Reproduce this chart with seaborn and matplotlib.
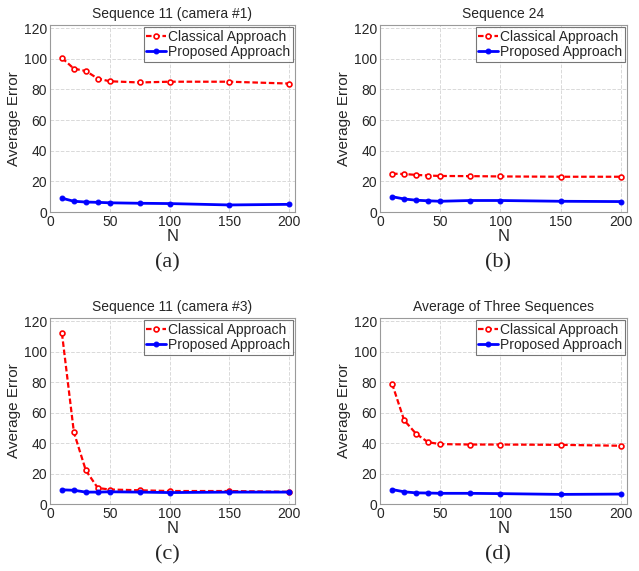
import pandas as pd
import matplotlib
matplotlib.use("Agg")
import matplotlib.pyplot as plt
import seaborn as sns

# -----------------------------
# DATA
# -----------------------------
n_values = [10, 20, 30, 40, 50, 75, 100, 150, 200]

titles = [
    "Sequence 11 (camera #1)",
    "Sequence 24",
    "Sequence 11 (camera #3)",
    "Average of Three Sequences",
]
panel_tags = ["(a)", "(b)", "(c)", "(d)"]

classical_a = [100.5, 93.5, 92.0, 87.0, 85.3, 84.5, 85.0, 85.0, 83.8]
proposed_a = [9.0, 7.0, 6.5, 6.3, 6.0, 5.7, 5.5, 4.6, 5.0]

classical_b = [25.0, 24.8, 24.2, 23.8, 23.5, 23.4, 23.2, 23.0, 23.0]
proposed_b = [10.0, 8.5, 7.7, 7.3, 7.0, 7.5, 7.5, 7.0, 6.8]

classical_c = [112.0, 47.0, 22.0, 10.5, 9.5, 9.0, 8.5, 8.5, 8.0]
proposed_c = [9.3, 9.0, 7.8, 7.8, 8.0, 7.8, 7.5, 7.8, 7.8]

classical_d = [79.0, 55.0, 46.0, 40.5, 39.3, 39.0, 39.0, 38.8, 38.2]
proposed_d = [9.5, 8.0, 7.3, 7.2, 7.0, 7.0, 6.8, 6.3, 6.5]

classical_all = [classical_a, classical_b, classical_c, classical_d]
proposed_all = [proposed_a, proposed_b, proposed_c, proposed_d]

# -----------------------------
# STYLE
# -----------------------------
sns.set_style("white")
plt.rcParams["font.family"] = ["Liberation Sans", "DejaVu Sans"]

W, H = 639, 571
fig = plt.figure(figsize=(W / 100, H / 100), dpi=100)

# axes boxes in pixels: left, top, right, bottom
boxes = [
    (50, 25, 295, 212),
    (380, 25, 627, 212),
    (50, 318, 295, 504),
    (380, 318, 627, 504),
]
tag_pos = [(167, 263), (498, 263), (167, 555), (498, 555)]

for i in range(4):
    l, t, r, b = boxes[i]
    ax = fig.add_axes([l / W, 1 - b / H, (r - l) / W, (b - t) / H])

    df = pd.DataFrame({
        "N": n_values * 2,
        "err": classical_all[i] + proposed_all[i],
        "method": ["Classical Approach"] * 9 + ["Proposed Approach"] * 9,
    })

    sns.lineplot(
        data=df[df["method"] == "Classical Approach"], x="N", y="err",
        ax=ax, color="#ff0000", linestyle=(0, (2.5, 1.2)), linewidth=1.6,
        marker="o", markersize=3.5, markerfacecolor="white",
        markeredgecolor="#ff0000", markeredgewidth=1.2,
        label="Classical Approach",
    )
    sns.lineplot(
        data=df[df["method"] == "Proposed Approach"], x="N", y="err",
        ax=ax, color="#0000ff", linestyle="-", linewidth=2.0,
        marker="o", markersize=3.5, markerfacecolor="#0000ff",
        markeredgecolor="#0000ff", label="Proposed Approach",
    )

    ax.set_xlim(0, 205)
    ax.set_ylim(0, 122)
    ax.set_xticks([0, 50, 100, 150, 200])
    ax.set_yticks([0, 20, 40, 60, 80, 100, 120])
    ax.grid(True, linestyle="--", color="#d9d9d9", linewidth=0.7)
    ax.tick_params(direction="in", labelsize=10, length=3, pad=2)
    for s in ax.spines.values():
        s.set_color("#9a9a9a")
        s.set_linewidth(0.8)

    ax.set_title(titles[i], fontsize=10, pad=5)
    ax.set_xlabel("N", fontsize=12, labelpad=0)
    ax.set_ylabel("Average Error", fontsize=11, labelpad=2)

    leg = ax.legend(loc="upper right", fontsize=10, frameon=True,
                    fancybox=False, borderpad=0.2, handlelength=1.4,
                    handletextpad=0.15, labelspacing=0.1,
                    borderaxespad=0.15)
    leg.get_frame().set_edgecolor("#555555")
    leg.get_frame().set_linewidth(0.8)

    tx, ty = tag_pos[i]
    fig.text(tx / W, 1 - ty / H, panel_tags[i], ha="center", va="center",
             fontsize=16, family=["Liberation Serif", "DejaVu Serif"])

fig.savefig("out.png", dpi=100)
